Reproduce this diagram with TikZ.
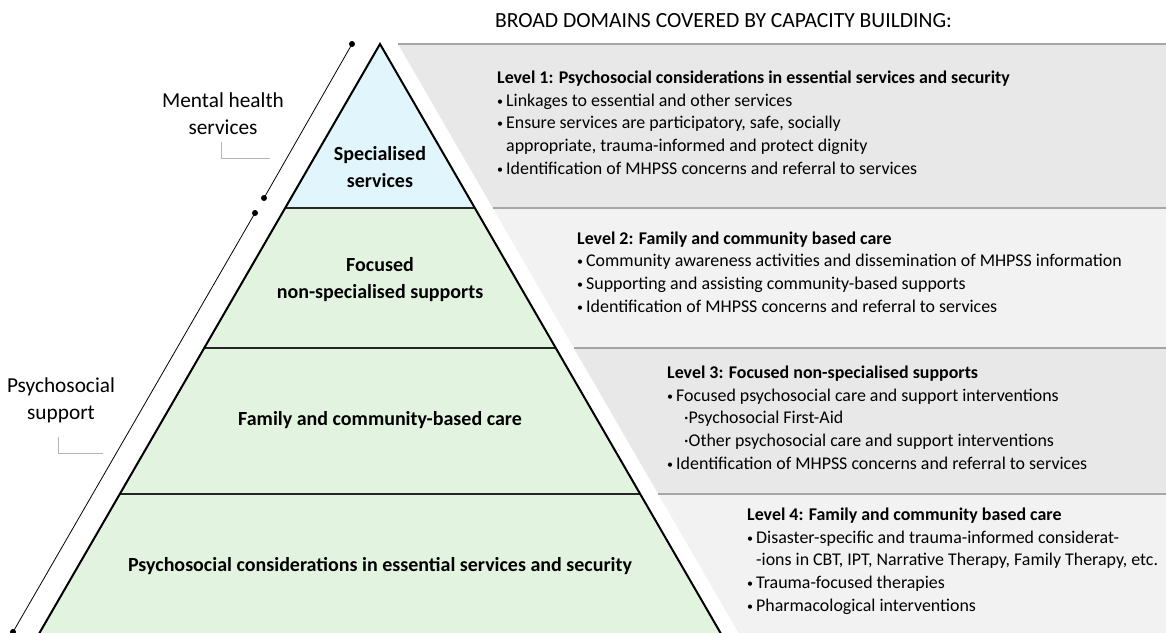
\documentclass[tikz,border=0pt]{standalone}
\usepackage{fontspec}
\setmainfont{Carlito}
\usetikzlibrary{calc}

\definecolor{tipblue}{HTML}{E1F5FC}
\definecolor{layergreen}{HTML}{E2F3E0}
\definecolor{paneldark}{HTML}{E8E8E8}
\definecolor{panellight}{HTML}{F2F2F2}
\definecolor{rulegray}{HTML}{A6A6A6}
\definecolor{tickgray}{HTML}{B4B4B4}

\newcommand{\bul}{\makebox[9pt][l]{\raisebox{1pt}{\fontsize{12}{12}\selectfont •}}}
\newcommand{\subbul}{\hspace*{17pt}·}
\newcommand{\cont}{\hspace*{9pt}}

\tikzset{
  layerlabel/.style={font=\fontsize{20}{27}\selectfont\bfseries, align=center},
  sidelabel/.style={font=\fontsize{21.3}{27}\selectfont, align=center},
  levelbox/.style={font=\fontsize{17.9}{22.8}\selectfont, align=left, anchor=base west, inner sep=0pt},
  bracketline/.style={line width=0.8pt},
  tickline/.style={draw=tickgray, line width=0.9pt},
  bandrule/.style={draw=rulegray, line width=1.3pt},
}

\begin{document}
\begin{tikzpicture}[x=1pt, y=-1pt]
    \useasboundingbox (0,0) rectangle (1166,632);
    \clip (0,0) rectangle (1166,632);

    % pyramid corners
    \coordinate (T) at (380,44);
    \coordinate (L1) at (285.2,208);
    \coordinate (R1) at (474.8,208);
    \coordinate (L2) at (204.2,348);
    \coordinate (R2) at (555.8,348);
    \coordinate (L3) at (119.8,494);
    \coordinate (R3) at (640.2,494);
    \coordinate (L4) at (35.4,640);
    \coordinate (R4) at (724.6,640);

    % grey bands on the right
    \fill[paneldark] (398,44) -- (1166,44) -- (1166,208) -- (492.8,208) -- cycle;
    \fill[panellight] (492.8,208) -- (1166,208) -- (1166,348) -- (573.8,348) -- cycle;
    \fill[paneldark] (573.8,348) -- (1166,348) -- (1166,494) -- (658.2,494) -- cycle;
    \fill[panellight] (658.2,494) -- (1166,494) -- (1166,640) -- (742.6,640) -- cycle;
    \draw[bandrule] (398,44) -- (1166,44);
    \draw[bandrule] (492.8,208) -- (1166,208);
    \draw[bandrule] (573.8,348) -- (1166,348);
    \draw[bandrule] (658.2,494) -- (1166,494);

    % pyramid
    \fill[tipblue] (T) -- (R1) -- (L1) -- cycle;
    \fill[layergreen] (L1) -- (R1) -- (R4) -- (L4) -- cycle;
    \draw[line width=1.2pt, black!85] (L1) -- (R1);
    \draw[line width=1.2pt, black!85] (L2) -- (R2);
    \draw[line width=1.2pt, black!85] (L3) -- (R3);
    \draw[line width=2pt] (L4) -- (T) -- (R4);

    \node[layerlabel] (spec) at (380,167.5) {Specialised\\services};
    \node[layerlabel] (focus) at (380,279.5) {Focused\\non-specialised supports};
    \node[layerlabel] (family) at (380,420) {Family and community-based care};
    \node[layerlabel] (basic) at (380,566) {Psychosocial considerations in essential services and security};

    % brackets on the left
    \coordinate (mhtop) at (352,44);
    \coordinate (mhbot) at (264,198);
    \coordinate (pstop) at (255,213);
    \coordinate (psbot) at (13,632);
    \draw[bracketline] (mhtop) -- (mhbot);
    \draw[bracketline] (pstop) -- (psbot);
    \foreach \p in {mhtop, mhbot, pstop, psbot}
        \fill (\p) circle (3pt);

    \node[sidelabel] (mental) at (223,113.5) {Mental health\\services};
    \node[sidelabel] (psycho) at (61,400) {Psychosocial\\support};
    \draw[tickline] (221,142) |- (270,158);
    \draw[tickline] (58,437) |- (103,453);

    % domains
    \node[font=\fontsize{21.6}{24}\selectfont] (head) at (723.5,21) {BROAD DOMAINS COVERED BY CAPACITY BUILDING:};

    \node[levelbox] (lvl1) at (497,174.5) {\textbf{Level 1: Psychosocial considerations in essential services and security}\\
        \bul Linkages to essential and other services\\
        \bul Ensure services are participatory, safe, socially\\
        \cont appropriate, trauma-informed and protect dignity\\
        \bul Identification of MHPSS concerns and referral to services};
    \node[levelbox] (lvl2) at (577,312.5) {\textbf{Level 2: Family and community based care}\\
        \bul Community awareness activities and dissemination of MHPSS information\\
        \bul Supporting and assisting community-based supports\\
        \bul Identification of MHPSS concerns and referral to services};
    \node[levelbox] (lvl3) at (667,469.5) {\textbf{Level 3: Focused non-specialised supports}\\
        \bul Focused psychosocial care and support interventions\\
        \subbul Psychosocial First-Aid\\
        \subbul Other psychosocial care and support interventions\\
        \bul Identification of MHPSS concerns and referral to services};
    \node[levelbox] (lvl4) at (747,611.5) {\textbf{Level 4: Family and community based care}\\
        \bul Disaster-specific and trauma-informed considerat-\\
        \cont -ions in CBT, IPT, Narrative Therapy, Family Therapy, etc.\\
        \bul Trauma-focused therapies\\
        \bul Pharmacological interventions};
\end{tikzpicture}
\end{document}
